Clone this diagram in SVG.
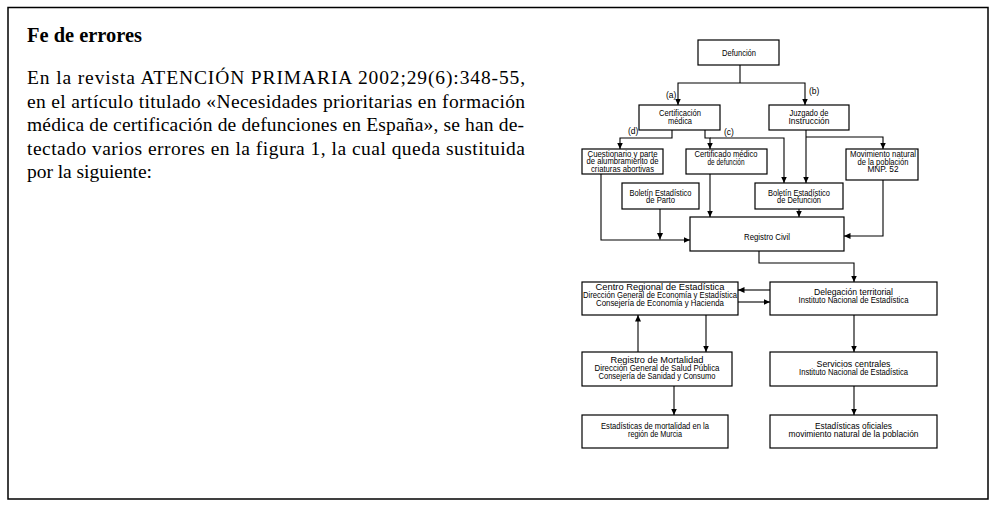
<svg xmlns="http://www.w3.org/2000/svg" width="998" height="515" viewBox="0 0 998 515">
<defs>
<marker id="ah" markerUnits="userSpaceOnUse" markerWidth="9" markerHeight="9" refX="6.5" refY="0" viewBox="0 -4.5 9 9" orient="auto">
<path d="M0,-3 L6.5,0 L0,3 z" fill="#000"/>
</marker>
<style>
.box{fill:#fff;stroke:#000;stroke-width:1.2}
.c{fill:none;stroke:#000;stroke-width:1.1;marker-end:url(#ah)}
.l{fill:none;stroke:#000;stroke-width:1.1}
.t{font-family:"Liberation Sans Narrow","Liberation Sans",Arial,sans-serif;font-size:8.2px;text-anchor:middle;fill:#000}
.lab{font-family:"Liberation Sans Narrow","Liberation Sans",Arial,sans-serif;font-size:8.5px;fill:#000}
.body{font-family:"Liberation Serif","Times New Roman",serif;font-size:19.5px;fill:#000}
.title{font-family:"Liberation Serif","Times New Roman",serif;font-size:20px;font-weight:bold;fill:#000}
</style>
</defs>
<rect x="8" y="7.5" width="980" height="491.5" fill="#fff" stroke="#000" stroke-width="1.5"/>
<g id="text-block">
<text class="title" x="27" y="42" textLength="115" lengthAdjust="spacingAndGlyphs">Fe de errores</text>
<text class="body" x="27" y="84" textLength="498" lengthAdjust="spacing">En la revista ATENCIÓN PRIMARIA 2002;29(6):348-55,</text>
<text class="body" x="27" y="107.5" textLength="498" lengthAdjust="spacing">en el artículo titulado «Necesidades prioritarias en formación</text>
<text class="body" x="27" y="131" textLength="497" lengthAdjust="spacing">médica de certificación de defunciones en España», se han de-</text>
<text class="body" x="27" y="154.5" textLength="498" lengthAdjust="spacing">tectado varios errores en la figura 1, la cual queda sustituida</text>
<text class="body" x="27" y="178" textLength="125" lengthAdjust="spacing">por la siguiente:</text>
</g>
<g id="connectors">
<polyline class="l" points="740,65 740,83"/>
<polyline class="c" points="740,83 678,83 678,105"/>
<polyline class="c" points="740,83 805,83 805,105"/>
<polyline class="c" points="672,130 672,138 620,138 620,149"/>
<polyline class="c" points="705,130 705,138 710,138 710,149"/>
<polyline class="c" points="710,138 784,138 784,183"/>
<polyline class="c" points="806,130 806,183"/>
<polyline class="c" points="806,137 883,137 883,149"/>
<polyline class="c" points="601,174 601,240 690,240"/>
<polyline class="c" points="660,209 660,239.5"/>
<polyline class="c" points="710,174 710,217"/>
<polyline class="c" points="799,209 799,217"/>
<polyline class="c" points="883,180 883,236 844,236"/>
<polyline class="c" points="759,251 759,263 854,263 854,282"/>
<polyline class="c" points="770,290 738,290"/>
<polyline class="c" points="738,302 770,302"/>
<polyline class="c" points="706,315 706,352"/>
<polyline class="c" points="638,352 638,315"/>
<polyline class="c" points="854,315 854,352"/>
<polyline class="c" points="674,386 674,415"/>
<polyline class="c" points="854,386 854,415"/>
<text class="lab" x="666" y="98">(a)</text>
<text class="lab" x="809" y="94">(b)</text>
<text class="lab" x="628" y="134">(d)</text>
<text class="lab" x="724" y="135">(c)</text>
</g>
<g id="defuncion">
<rect class="box" x="698" y="40" width="81" height="25"/>
<text class="t" x="739" y="55.5" textLength="34" lengthAdjust="spacingAndGlyphs">Defunción</text>
</g>
<g id="certificacion">
<rect class="box" x="639" y="105" width="81" height="25"/>
<text class="t" x="680" y="116" textLength="42" lengthAdjust="spacingAndGlyphs">Certificación</text>
<text class="t" x="680" y="123.5" textLength="24" lengthAdjust="spacingAndGlyphs">médica</text>
</g>
<g id="juzgado">
<rect class="box" x="769" y="105" width="80" height="25"/>
<text class="t" x="809" y="116" textLength="39" lengthAdjust="spacingAndGlyphs">Juzgado de</text>
<text class="t" x="809" y="123.5" textLength="41" lengthAdjust="spacingAndGlyphs">Instrucción</text>
</g>
<g id="cuestionario">
<rect class="box" x="582" y="149" width="81" height="25"/>
<text class="t" x="622.5" y="156.5" textLength="70" lengthAdjust="spacingAndGlyphs">Cuestionario y parte</text>
<text class="t" x="622.5" y="164" textLength="72" lengthAdjust="spacingAndGlyphs">de alumbramiento de</text>
<text class="t" x="622.5" y="171.5" textLength="63" lengthAdjust="spacingAndGlyphs">criaturas abortivas</text>
</g>
<g id="certificado">
<rect class="box" x="686" y="149" width="81" height="25"/>
<text class="t" x="726" y="157" textLength="63" lengthAdjust="spacingAndGlyphs">Certificado médico</text>
<text class="t" x="726" y="164.5" textLength="37" lengthAdjust="spacingAndGlyphs">de defunción</text>
</g>
<g id="movimiento">
<rect class="box" x="846" y="149" width="72" height="31"/>
<text class="t" x="883" y="157" textLength="66" lengthAdjust="spacingAndGlyphs">Movimiento natural</text>
<text class="t" x="883" y="164.5" textLength="51" lengthAdjust="spacingAndGlyphs">de la población</text>
<text class="t" x="883" y="172" textLength="31" lengthAdjust="spacingAndGlyphs">MNP. 52</text>
</g>
<g id="boletin-parto">
<rect class="box" x="622" y="183" width="77" height="26"/>
<text class="t" x="660.5" y="195.5" textLength="62" lengthAdjust="spacingAndGlyphs">Boletín Estadístico</text>
<text class="t" x="660.5" y="203" textLength="29" lengthAdjust="spacingAndGlyphs">de Parto</text>
</g>
<g id="boletin-defuncion">
<rect class="box" x="755" y="183" width="88" height="26"/>
<text class="t" x="799" y="195.5" textLength="62" lengthAdjust="spacingAndGlyphs">Boletín Estadístico</text>
<text class="t" x="799" y="203" textLength="44" lengthAdjust="spacingAndGlyphs">de Defunción</text>
</g>
<g id="registro-civil">
<rect class="box" x="690" y="217" width="154" height="34"/>
<text class="t" x="767" y="239.5" textLength="46" lengthAdjust="spacingAndGlyphs">Registro Civil</text>
</g>
<g id="centro-regional">
<rect class="box" x="582" y="282" width="156" height="33"/>
<text class="t" x="660" y="289.5" textLength="129" lengthAdjust="spacingAndGlyphs">Centro Regional de Estadística</text>
<text class="t" x="660" y="297.5" textLength="154" lengthAdjust="spacingAndGlyphs">Dirección General de Economía y Estadística</text>
<text class="t" x="660" y="305.5" textLength="128" lengthAdjust="spacingAndGlyphs">Consejería de Economía y Hacienda</text>
</g>
<g id="delegacion">
<rect class="box" x="770" y="282" width="167" height="33"/>
<text class="t" x="853.5" y="294.5" textLength="79" lengthAdjust="spacingAndGlyphs">Delegación territorial</text>
<text class="t" x="853.5" y="302.5" textLength="110" lengthAdjust="spacingAndGlyphs">Instituto Nacional de Estadística</text>
</g>
<g id="registro-mortalidad">
<rect class="box" x="582" y="352" width="150" height="34"/>
<text class="t" x="657" y="363" textLength="93" lengthAdjust="spacingAndGlyphs">Registro de Mortalidad</text>
<text class="t" x="657" y="371" textLength="125" lengthAdjust="spacingAndGlyphs">Dirección General de Salud Pública</text>
<text class="t" x="657" y="379" textLength="117" lengthAdjust="spacingAndGlyphs">Consejería de Sanidad y Consumo</text>
</g>
<g id="servicios-centrales">
<rect class="box" x="770" y="352" width="167" height="34"/>
<text class="t" x="853.5" y="366.5" textLength="74" lengthAdjust="spacingAndGlyphs">Servicios centrales</text>
<text class="t" x="853.5" y="374.5" textLength="109" lengthAdjust="spacingAndGlyphs">Instituto Nacional de Estadística</text>
</g>
<g id="estadisticas-murcia">
<rect class="box" x="582" y="415" width="146" height="33"/>
<text class="t" x="655" y="428.5" textLength="108" lengthAdjust="spacingAndGlyphs">Estadísticas de mortalidad en la</text>
<text class="t" x="655" y="436.5" textLength="54" lengthAdjust="spacingAndGlyphs">región de Murcia</text>
</g>
<g id="estadisticas-oficiales">
<rect class="box" x="770" y="415" width="167" height="33"/>
<text class="t" x="853.5" y="428.5" textLength="77" lengthAdjust="spacingAndGlyphs">Estadísticas oficiales</text>
<text class="t" x="853.5" y="436.5" textLength="130" lengthAdjust="spacingAndGlyphs">movimiento natural de la población</text>
</g>
</svg>
